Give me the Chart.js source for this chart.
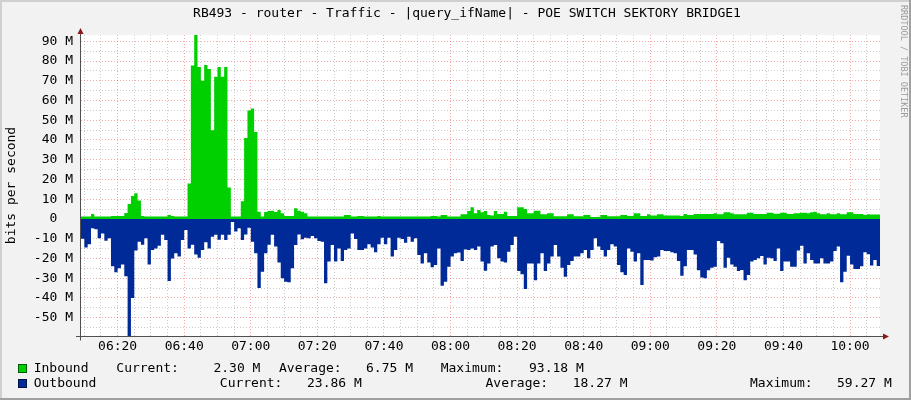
<!DOCTYPE html>
<html>
<head>
<meta charset="utf-8">
<script src="https://cdn.jsdelivr.net/npm/chart.js@4.4.1/dist/chart.umd.min.js"></script>
<style>
  html, body { margin: 0; padding: 0; background: #f2f2f2; }
</style>
</head>
<body>
<canvas id="chart" width="911" height="400"></canvas>
<script>
// one sample per minute, first sample at 06:09, values in M (bits per second)
const startTime = "06:09";

const inbound = [
  1.2, 1.2, 1.2, 2.5, 1.2, 1.2, 1.2, 1.2, 1.2, 1.5, 1.5, 1.5, 1.5, 3, 7.6, 11.6, 13, 9.3, 1.5, 1.2,
  1.2, 1.2, 1.2, 1.2, 1.2, 1.2, 2.0, 1.5, 1.2, 1.2, 1.2, 1.2, 18, 77.7, 93.18, 77, 70, 78, 76, 45,
  72, 77, 72, 77, 16, 1.2, 1.2, 1.2, 9, 41, 55, 56, 44, 3.7, 1.2, 3.5, 4, 4.2, 3.5, 4.5,
  2.9, 1.5, 1.5, 1.5, 5.4, 4.2, 3.7, 2.9, 1.2, 1.2, 1.2, 1.2, 1.2, 1.2, 1.2, 1.2, 1.2, 1.2, 1.2, 2.0,
  2.0, 1.2, 1.2, 1.5, 1.5, 1.2, 1.2, 1.2, 1.2, 1.5, 1.2, 1.2, 1.2, 1.2, 1.2, 1.2, 1.2, 1.2, 1.2, 1.2,
  1.2, 1.2, 1.2, 1.2, 1.2, 1.5, 1.5, 1.2, 2, 2, 1.2, 1.2, 1.2, 1.2, 2.4, 2.4, 4, 6, 2.9, 4.5,
  3.4, 4, 2, 1.7, 4, 2.5, 2.5, 3.7, 1.5, 1.5, 1.5, 5.9, 5.9, 5, 2.9, 2.9, 4.2, 4.2, 2.4, 2.4,
  2.9, 2.9, 1.4, 1.4, 1.4, 1.4, 2.4, 2.4, 1.4, 1.4, 1.4, 2, 2, 1, 1, 1, 2, 2, 1.4, 1.4,
  1.4, 1.4, 2, 2, 1.5, 1.5, 2.9, 2.9, 1.5, 1.5, 2.4, 1.7, 1.7, 2.4, 2.4, 1.7, 1.7, 1.7, 1.7, 1.7,
  1.5, 2.5, 2, 2, 2.5, 2.5, 2.5, 2.5, 2.5, 2.5, 2.9, 2.4, 2.4, 3.4, 3.4, 2.9, 2.4, 2.4, 2.4, 2.4,
  3.2, 3.2, 2.5, 2.5, 2.5, 2.5, 3.2, 3.2, 2.7, 2.7, 3.2, 3.2, 2.5, 2.5, 2.9, 2.9, 3.2, 3.2, 2.9, 3.4,
  3.7, 2.9, 2.4, 2.4, 2.9, 2.4, 2.4, 2.9, 2.4, 2.4, 3.4, 3.4, 2.5, 2.5, 2.5, 2, 2.4, 2.3, 2.3, 2.3
];

const outbound = [
  10, 14.4, 12.8, 4.7, 5.2, 9.8, 7.3, 11, 9.8, 24, 27, 25, 23, 29, 59.27, 40, 16, 11.5, 13, 9.8,
  23, 15.7, 15, 13.5, 8, 10.6, 31.4, 20, 17.4, 19, 10.6, 5.6, 15, 13, 18, 19.6, 15.7, 11.8, 15, 9,
  8, 10.5, 8, 10.6, 8, 1.5, 6.4, 4.7, 10.6, 7.8, 4.4, 11.5, 17.4, 35, 26.7, 17.4, 13, 8, 14, 22,
  30, 31.8, 32, 25, 13.2, 7.8, 10.3, 9.5, 9.8, 8.6, 9.8, 11.1, 11.5, 32.6, 21.5, 13.2, 21.6, 14.9, 21.3, 15.7,
  14.9, 7.3, 10.2, 15.7, 15.7, 14.9, 12.8, 14.5, 16.9, 12.8, 9.5, 12.8, 9.5, 19, 15.7, 9.5, 10.1, 12, 9, 11.5,
  9.8, 18.2, 22.5, 17.4, 22, 24.5, 23.3, 14.9, 33.8, 31.8, 24.2, 19, 17.4, 17, 21.3, 15.4, 15.7, 14.9, 15.7, 14,
  21.6, 26.2, 22.5, 14, 13.2, 19.9, 21.6, 22, 16.6, 13.2, 9, 26.4, 28, 35.5, 22.5, 22.5, 31, 22.5, 17.4, 26.4,
  22.5, 19, 13.2, 19, 24.7, 29.2, 23.3, 21.3, 19, 19, 17.4, 15.7, 19.9, 15.7, 9.8, 14, 15.7, 19, 15.7, 12.8,
  14, 23.3, 27, 28.4, 14.9, 16.6, 21.6, 17.4, 33.4, 20.8, 20.8, 21, 19.4, 19, 15.7, 16.2, 16.2, 16.9, 17.4, 21.3,
  28.7, 24, 15.7, 15.7, 18, 26, 29.7, 30, 26, 24.7, 24.2, 11.1, 12.3, 24.7, 19.6, 23, 24.2, 26.4, 25.8, 31,
  28.4, 21.6, 20.8, 19.9, 18.8, 23, 19.6, 19.9, 21.3, 14.9, 26.4, 21.6, 21.6, 24.2, 24.2, 16, 13.5, 22.5, 17.4, 20.8,
  22.5, 22.5, 19.9, 22.5, 22.5, 21.6, 16.2, 14, 32.1, 26.7, 18.6, 23, 25.3, 25.3, 24, 16.9, 17.9, 23.6, 20.8, 23.86
];

const timeTicks = ["06:20", "06:40", "07:00", "07:20", "07:40", "08:00", "08:20",
                   "08:40", "09:00", "09:20", "09:40", "10:00"];
const valueTicks = [90, 80, 70, 60, 50, 40, 30, 20, 10, 0, -10, -20, -30, -40, -50];

const legendRows = [
  ["Inbound", "2.30 M", "6.75 M", "93.18 M"],
  ["Outbound", "23.86 M", "18.27 M", "59.27 M"]
];

const title = "RB493 - router - Traffic - |query_ifName| - POE SWITCH SEKTORY BRIDGE1";

const FONT = '"DejaVu Sans Mono", monospace';
const GREEN = "#00CF00";
const BLUE = "#002A97";

const toMin = s => { const [h, m] = s.split(":").map(Number); return h * 60 + m; };
const t0 = toMin(startTime);
const t1 = t0 + inbound.length;

function steps(values, sign) {
  const pts = values.map((v, i) => ({ x: t0 + i, y: sign * v }));
  pts.push({ x: t1, y: sign * values[values.length - 1] });
  return pts;
}

const minorGrid = "rgba(140,140,140,0.45)";
const majorGrid = "rgba(235,60,60,0.45)";

const frame = {
  id: "frame",
  beforeDraw(chart) {
    const { ctx, chartArea: a } = chart;
    ctx.save();
    ctx.fillStyle = "#f2f2f2";
    ctx.fillRect(0, 0, 911, 400);
    ctx.fillStyle = "#ffffff";
    ctx.fillRect(a.left, a.top, a.right - a.left, a.bottom - a.top);
    ctx.restore();
  },
  afterDraw(chart) {
    const { ctx, chartArea: a } = chart;
    ctx.save();

    // outer 3d border
    ctx.fillStyle = "#d0d0d0";
    ctx.fillRect(0, 0, 911, 2);
    ctx.fillRect(0, 0, 2, 400);
    ctx.fillStyle = "#a0a0a0";
    ctx.fillRect(0, 398, 911, 2);
    ctx.fillRect(909, 0, 2, 400);

    // axes and arrows
    const ax = Math.floor(a.left) - 0.5;
    const ay = Math.round(a.bottom) + 0.5;
    ctx.strokeStyle = "#505050";
    ctx.lineWidth = 1;
    ctx.beginPath();
    ctx.moveTo(76, ay);
    ctx.lineTo(a.right + 3, ay);
    ctx.moveTo(ax, ay + 4);
    ctx.lineTo(ax, a.top - 1);
    ctx.stroke();
    ctx.fillStyle = "#8b1818";
    ctx.beginPath();
    ctx.moveTo(a.right + 3, ay - 3);
    ctx.lineTo(a.right + 9, ay);
    ctx.lineTo(a.right + 3, ay + 3);
    ctx.closePath();
    ctx.fill();
    ctx.beginPath();
    ctx.moveTo(ax - 3, a.top - 1);
    ctx.lineTo(ax, a.top - 7);
    ctx.lineTo(ax + 3, a.top - 1);
    ctx.closePath();
    ctx.fill();

    // title
    ctx.fillStyle = "#000";
    ctx.font = "13px " + FONT;
    ctx.textBaseline = "middle";
    ctx.textAlign = "center";
    ctx.fillText(title, 467, 14);

    // vertical axis title
    ctx.save();
    ctx.translate(12, (a.top + a.bottom) / 2);
    ctx.rotate(-Math.PI / 2);
    ctx.fillText("bits per second", 0, 0);
    ctx.restore();

    // watermark
    ctx.save();
    ctx.translate(903, 5);
    ctx.rotate(Math.PI / 2);
    ctx.textAlign = "left";
    ctx.fillStyle = "#9a9a9a";
    ctx.font = "8.5px " + FONT;
    ctx.fillText("RRDTOOL / TOBI OETIKER", 0, 0);
    ctx.restore();

    // legend
    ctx.textAlign = "left";
    ctx.font = "13px " + FONT;
    const rows = [
      { y: 368.5, color: GREEN, xs: [33.7, 116.3, 213.4, 279, 366, 440.7, 529] },
      { y: 383.5, color: BLUE, xs: [33.7, 219.8, 307, 485.5, 572.7, 750, 837] }
    ];
    rows.forEach((r, i) => {
      const [name, cur, avg, max] = legendRows[i];
      ctx.fillStyle = r.color;
      ctx.fillRect(18, r.y - 4.5, 9, 9);
      ctx.strokeStyle = "rgba(0,0,0,0.55)";
      ctx.strokeRect(18.5, r.y - 4, 8, 8);
      ctx.fillStyle = "#000";
      const parts = [name, "Current:", cur, "Average:", avg, "Maximum:", max];
      parts.forEach((p, k) => ctx.fillText(p, r.xs[k], r.y));
    });

    ctx.restore();
  }
};

new Chart(document.getElementById("chart"), {
  type: "line",
  data: {
    datasets: [
      {
        label: "Inbound",
        data: steps(inbound, 1),
        stepped: true,
        fill: "origin",
        backgroundColor: GREEN,
        borderColor: "rgba(0,0,0,0)",
        borderWidth: 1,
        pointRadius: 0
      },
      {
        label: "Outbound",
        data: steps(outbound, -1),
        stepped: true,
        fill: "origin",
        backgroundColor: BLUE,
        borderColor: "rgba(0,0,0,0)",
        borderWidth: 1,
        pointRadius: 0
      }
    ]
  },
  options: {
    responsive: false,
    animation: false,
    devicePixelRatio: 1,
    layout: { padding: { left: 0, right: 31, top: 35, bottom: 0 } },
    plugins: { legend: { display: false }, tooltip: { enabled: false } },
    scales: {
      x: {
        type: "linear",
        min: t0,
        max: t1,
        z: 1,
        afterFit(s) { s.height = 64; },
        afterBuildTicks(s) {
          const ticks = [];
          for (let v = Math.ceil(t0 / 5) * 5; v < t1; v += 5) ticks.push({ value: v });
          s.ticks = ticks;
        },
        grid: {
          drawTicks: false,
          color: c => (c.tick && c.tick.value % 20 === 0 ? majorGrid : minorGrid)
        },
        border: { display: false, dash: [1, 2] },
        ticks: {
          autoSkip: false,
          maxRotation: 0,
          padding: 3,
          color: "#000",
          font: { family: FONT, size: 13 },
          callback: v => {
            const lbl = timeTicks.find(s => toMin(s) === v);
            return lbl || "";
          }
        }
      },
      y: {
        min: -59.27,
        max: 93.18,
        z: 1,
        afterFit(s) { s.width = 81; },
        afterBuildTicks(s) {
          const ticks = [];
          for (let v = -55; v <= 90; v += 5) ticks.push({ value: v });
          s.ticks = ticks;
        },
        grid: {
          drawTicks: false,
          color: c => (c.tick && c.tick.value % 10 === 0 ? majorGrid : minorGrid)
        },
        border: { display: false, dash: [1, 2] },
        ticks: {
          autoSkip: false,
          padding: 8,
          color: "#000",
          font: { family: FONT, size: 13 },
          callback: v => {
            if (!valueTicks.includes(v)) return "";
            return v === 0 ? "0  " : v + " M";
          }
        }
      }
    }
  },
  plugins: [frame]
});
</script>
</body>
</html>
